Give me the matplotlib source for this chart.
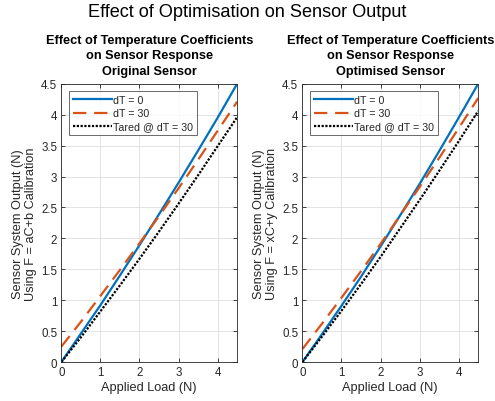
import matplotlib
matplotlib.use("Agg")
import matplotlib.pyplot as plt
from matplotlib.ticker import FormatStrFormatter

plt.rcParams['font.family'] = ['Liberation Sans', 'DejaVu Sans']

# Applied load (N)
load = [0, 0.5, 1, 1.5, 2, 2.5, 3, 3.5, 4, 4.5]

# Original sensor, F = aC+b calibration
orig_dt0 = [0, 0.46, 0.92, 1.40, 1.89, 2.39, 2.90, 3.42, 3.95, 4.50]
orig_dt30 = [0.25, 0.65, 1.07, 1.49, 1.92, 2.36, 2.81, 3.27, 3.74, 4.21]
orig_tared = [0, 0.40, 0.82, 1.24, 1.67, 2.11, 2.56, 3.02, 3.49, 3.96]

# Optimised sensor, F = xC+y calibration
opt_dt0 = [0, 0.45, 0.91, 1.38, 1.87, 2.37, 2.88, 3.41, 3.95, 4.50]
opt_dt30 = [0.21, 0.62, 1.04, 1.47, 1.91, 2.37, 2.83, 3.30, 3.78, 4.27]
opt_tared = [0, 0.41, 0.83, 1.26, 1.70, 2.16, 2.62, 3.09, 3.57, 4.06]

legend_labels = ["dT = 0", "dT = 30", "Tared @ dT = 30"]
titles = ["Effect of Temperature Coefficients\non Sensor Response\nOriginal Sensor",
          "Effect of Temperature Coefficients\non Sensor Response\nOptimised Sensor"]
ylabels = ["Sensor System Output (N)\nUsing F = aC+b Calibration",
           "Sensor System Output (N)\nUsing F = xC+y Calibration"]

dark = "#262626"
blue = "#0072BD"
orange = "#D95319"

fig = plt.figure(figsize=(4.95, 4.02), dpi=100)
positions = [[0.124, 0.097, 0.355, 0.692], [0.611, 0.097, 0.355, 0.692]]
series = [(orig_dt0, orig_dt30, orig_tared), (opt_dt0, opt_dt30, opt_tared)]

for pos, (s0, s30, st), title, ylab in zip(positions, series, titles, ylabels):
    ax = fig.add_axes(pos)
    ax.plot(load, s0, color=blue, lw=1.6, label=legend_labels[0])
    ax.plot(load, s30, color=orange, lw=1.6, ls=(0, (6, 3.5)), label=legend_labels[1])
    ax.plot(load, st, color="black", lw=1.6, ls=(0, (1, 0.7)), label=legend_labels[2])
    ax.set_xlim(0, 4.5)
    ax.set_ylim(0, 4.5)
    ax.set_xticks([0, 1, 2, 3, 4])
    ax.set_yticks([0, 0.5, 1, 1.5, 2, 2.5, 3, 3.5, 4, 4.5])
    ax.yaxis.set_major_formatter(FormatStrFormatter('%g'))
    ax.grid(True, color="#dedede", lw=0.6)
    ax.set_axisbelow(True)
    ax.tick_params(direction="in", length=3, width=0.6, colors=dark,
                   labelsize=8.3, top=True, right=True, pad=3)
    for sp in ax.spines.values():
        sp.set_color(dark)
        sp.set_linewidth(0.6)
    ax.set_xlabel("Applied Load (N)", fontsize=9.2, color=dark, labelpad=2)
    ax.set_ylabel(ylab, fontsize=9.2, color=dark, labelpad=3, linespacing=1.1)
    ax.set_title(title, fontsize=9.2, fontweight="bold", color="black",
                 linespacing=1.4, pad=7)
    leg = ax.legend(loc="upper left", fontsize=7.7, frameon=True, fancybox=False,
                    handlelength=3.7, handletextpad=0.1, borderpad=0.35,
                    labelspacing=0.3, borderaxespad=0.7)
    leg.get_frame().set_edgecolor(dark)
    leg.get_frame().set_linewidth(0.6)
    for t in leg.get_texts():
        t.set_color(dark)

fig.suptitle("Effect of Optimisation on Sensor Output", fontsize=13.1,
             y=0.99, va="top", color="black")

fig.savefig("out.png", dpi=100)
